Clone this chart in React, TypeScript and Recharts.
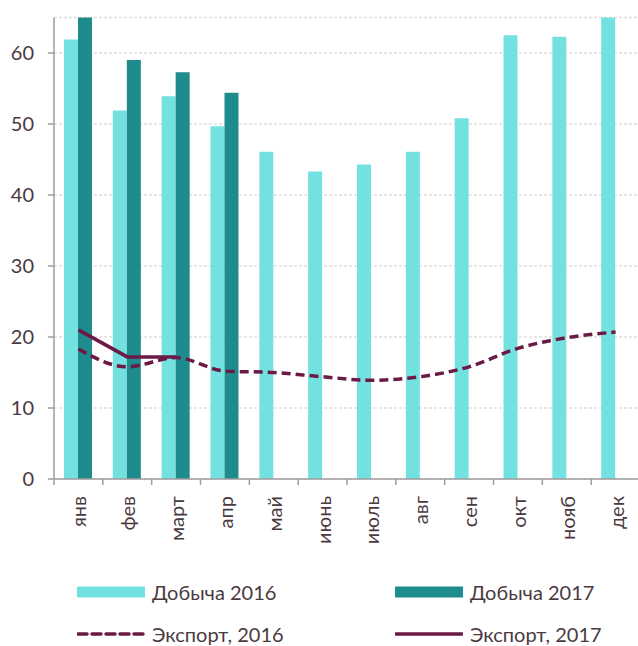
import React from 'react'
import { Bar, CartesianGrid, ComposedChart, Line, XAxis, YAxis } from 'recharts'

const months = ['янв', 'фев', 'март', 'апр', 'май', 'июнь', 'июль', 'авг', 'сен', 'окт', 'нояб', 'дек']
const output2016 = [61.9, 51.9, 53.9, 49.7, 46.1, 43.3, 44.3, 46.1, 50.8, 62.5, 62.3, 65.1]
const output2017 = [65.2, 59.0, 57.3, 54.4, null, null, null, null, null, null, null, null]
const export2016 = [18.3, 15.8, 17.1, 15.2, 15.0, 14.4, 13.9, 14.4, 15.8, 18.4, 19.9, 20.7]
const export2017 = [21.0, 17.2, 17.2, null, null, null, null, null, null, null, null, null]
const yTicks = [0, 10, 20, 30, 40, 50, 60]

const seriesNames = ['Добыча 2016', 'Добыча 2017', 'Экспорт, 2016', 'Экспорт, 2017']

const LIGHT = '#74e1e1'
const DARK = '#1e8c8c'
const WINE = '#6b1a46'
const TEXT = '#4a3a3f'
const AXIS = '#a19b9c'
const FONT = 'Lato, "Open Sans", sans-serif'

const W = 638
const PLOT_LEFT = 54
const PLOT_W = 586
const BAND = PLOT_W / months.length

const rows = months.map((m, i) => ({
  month: m,
  o16: output2016[i],
  o17: output2017[i],
  e16: export2016[i],
  e17: export2017[i],
}))

// подпись месяца повёрнута, риска стоит на границе категорий
function MonthTick({ x, y, payload }: any) {
  return (
    <g>
      <line x1={x - BAND / 2} x2={x - BAND / 2} y1={y} y2={y + 6} stroke={AXIS} strokeWidth={1.5} />
      <text
        x={x}
        y={y + 17}
        transform={`rotate(-90 ${x} ${y + 17})`}
        textAnchor="end"
        dominantBaseline="central"
        fill={TEXT}
        fontSize={20}
        fontFamily={FONT}
      >
        {payload.value}
      </text>
    </g>
  )
}

function LegendItem({ name, kind, color }: { name: string; kind: 'bar' | 'dash' | 'line'; color: string }) {
  return (
    <div style={{ display: 'flex', alignItems: 'center', width: 318, height: 24 }}>
      <svg width={68} height={12} style={{ marginRight: 7 }}>
        {kind === 'bar' ? (
          <rect x={0} y={0.5} width={68} height={11} fill={color} />
        ) : (
          <line
            x1={1}
            x2={67}
            y1={6}
            y2={6}
            stroke={color}
            strokeWidth={3.5}
            strokeLinecap="round"
            strokeDasharray={kind === 'dash' ? '9 5' : undefined}
          />
        )}
      </svg>
      <span style={{ fontSize: 20, lineHeight: '24px', color: TEXT, fontFamily: FONT }}>{name}</span>
    </div>
  )
}

export default function App() {
  return (
    <div style={{ position: 'absolute', left: 0, top: 0, width: W, height: 646, overflow: 'hidden', background: '#fff' }}>
      <ComposedChart
        width={PLOT_LEFT + PLOT_W}
        height={560}
        data={rows}
        margin={{ top: 17.5, right: 0, bottom: 0, left: 0 }}
        barGap={0}
      >
        <CartesianGrid vertical={false} stroke="#dedede" strokeDasharray="3 2" strokeWidth={1.5} />
        <XAxis
          dataKey="month"
          height={81}
          interval={0}
          tickSize={0}
          tickMargin={0}
          tickLine={false}
          axisLine={{ stroke: AXIS, strokeWidth: 1.5 }}
          tick={<MonthTick />}
        />
        <YAxis
          width={PLOT_LEFT}
          domain={[0, 65]}
          ticks={yTicks}
          allowDataOverflow
          tickSize={6}
          tickMargin={14}
          axisLine={{ stroke: AXIS, strokeWidth: 1.5 }}
          tickLine={{ stroke: AXIS, strokeWidth: 1.5 }}
          tick={{ fill: TEXT, fontSize: 20, fontFamily: FONT }}
        />
        <Bar dataKey="o16" name={seriesNames[0]} fill={LIGHT} barSize={14} isAnimationActive={false} />
        <Bar dataKey="o17" name={seriesNames[1]} fill={DARK} barSize={14} isAnimationActive={false} />
        <Line
          dataKey="e16"
          name={seriesNames[2]}
          type="monotone"
          stroke={WINE}
          strokeWidth={3.5}
          strokeDasharray="9 5"
          dot={false}
          isAnimationActive={false}
        />
        <Line
          dataKey="e17"
          name={seriesNames[3]}
          type="linear"
          stroke={WINE}
          strokeWidth={3.5}
          dot={false}
          isAnimationActive={false}
        />
      </ComposedChart>
      <div style={{ position: 'absolute', left: 77, top: 580, display: 'flex', flexWrap: 'wrap', width: 640, rowGap: 18 }}>
        <LegendItem name={seriesNames[0]} kind="bar" color={LIGHT} />
        <LegendItem name={seriesNames[1]} kind="bar" color={DARK} />
        <LegendItem name={seriesNames[2]} kind="dash" color={WINE} />
        <LegendItem name={seriesNames[3]} kind="line" color={WINE} />
      </div>
    </div>
  )
}
